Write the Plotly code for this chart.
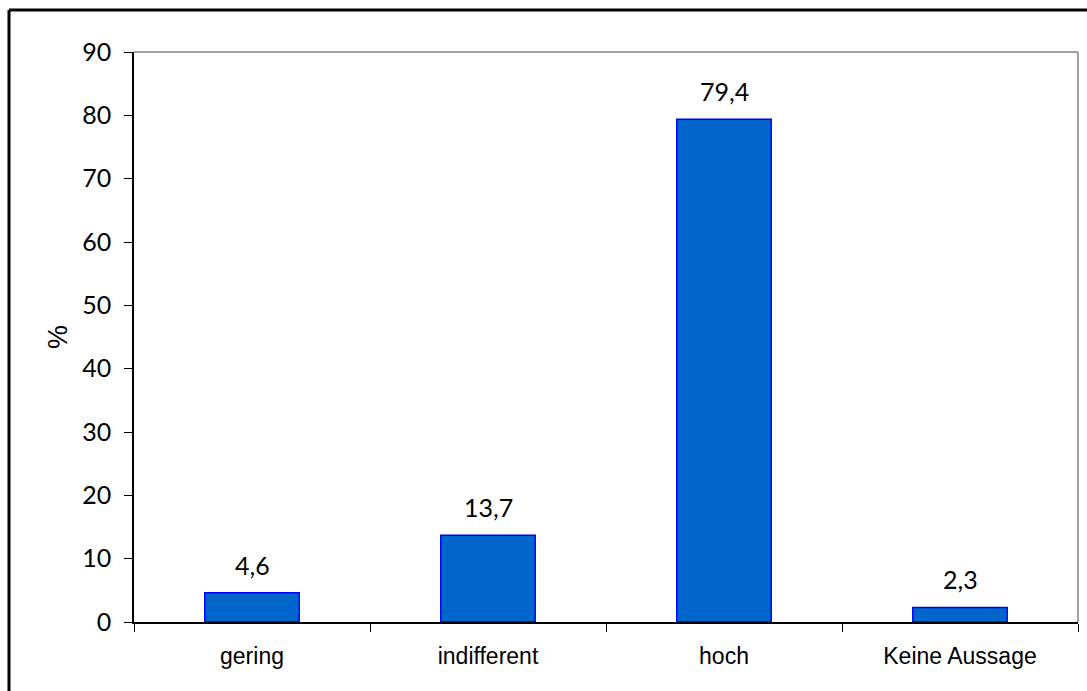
import plotly.graph_objects as go

# Data
categories = ["gering", "indifferent", "hoch", "Keine Aussage"]
values = [4.6, 13.7, 79.4, 2.3]
y_ticks = [0, 10, 20, 30, 40, 50, 60, 70, 80, 90]

W, H = 1087, 691
L, R, T, B = 134, 9, 52, 69
plot_w = W - L - R
plot_h = H - T - B

BAR_FILL = "#0066CC"
BAR_EDGE = "#0000FF"
NUM_FONT = "Lato"
TXT_FONT = "Liberation Sans, Arial"

fig = go.Figure(
    go.Bar(
        x=categories,
        y=values,
        marker=dict(color=BAR_FILL, line=dict(color=BAR_EDGE, width=1.5)),
        hoverinfo="skip",
    )
)

# Value labels above each bar
for c, v in zip(categories, values):
    fig.add_annotation(
        x=c, y=v, xref="x", yref="y",
        text=f"{v:.1f}".replace(".", ","),
        showarrow=False, yanchor="bottom", yshift=11,
        font=dict(family=NUM_FONT, size=25, color="black"),
    )

# Gray top and right frame of the plot area
fig.add_shape(type="line", xref="paper", yref="paper", x0=0, x1=1, y0=1, y1=1,
              line=dict(color="#808080", width=1.5))
fig.add_shape(type="line", xref="paper", yref="paper", x0=1, x1=1, y0=0, y1=1,
              line=dict(color="#808080", width=1.5))

# Outer chart border (left and top edges visible)
bx0 = (9 - L) / plot_w
by1 = 1 + (T - 10) / plot_h
fig.add_shape(type="line", xref="paper", yref="paper", x0=bx0, x1=bx0 + 2, y0=by1, y1=by1,
              line=dict(color="black", width=3))
fig.add_shape(type="line", xref="paper", yref="paper", x0=bx0, x1=bx0, y0=by1, y1=-1,
              line=dict(color="black", width=3))

fig.update_layout(
    width=W, height=H,
    margin=dict(l=L, r=R, t=T, b=B),
    paper_bgcolor="white", plot_bgcolor="white",
    bargap=0.6,
    showlegend=False,
    xaxis=dict(
        type="category",
        tickson="boundaries",
        ticks="outside", ticklen=8, tickcolor="black", tickwidth=1,
        showline=True, linecolor="black", linewidth=1.5,
        showgrid=False,
        tickfont=dict(family=TXT_FONT, size=23, color="black"),
        ticklabelstandoff=13,
    ),
    yaxis=dict(
        range=[0, 90],
        tickvals=y_ticks,
        ticks="outside", ticklen=8, tickcolor="black", tickwidth=1,
        showline=True, linecolor="black", linewidth=1.5,
        showgrid=False, zeroline=False,
        tickfont=dict(family=NUM_FONT, size=25, color="black"),
        ticklabelstandoff=8,
        title=dict(text="%", standoff=7,
                   font=dict(family=TXT_FONT, size=27, color="black")),
    ),
)

fig.write_html("out.html")
